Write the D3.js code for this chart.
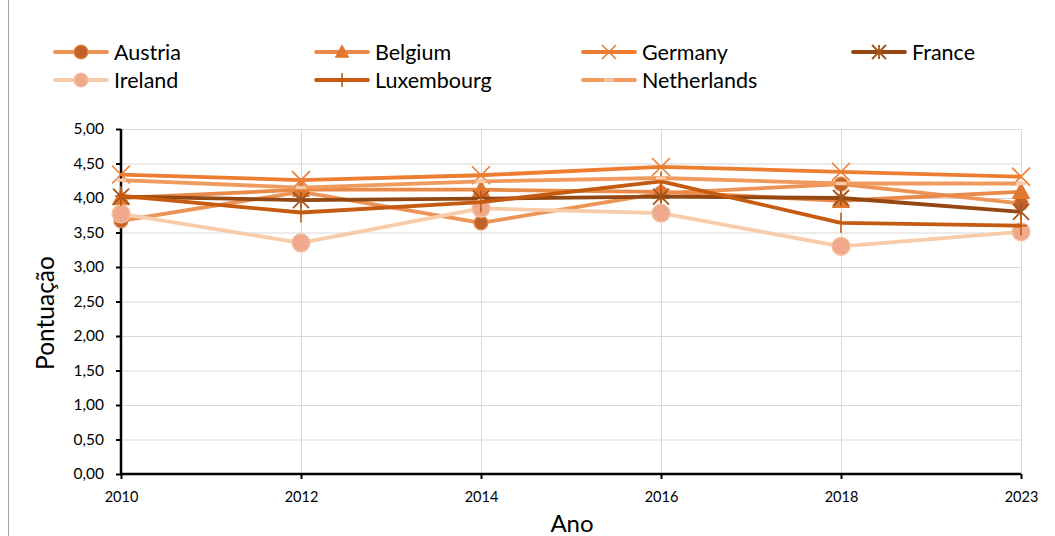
<!DOCTYPE html>
<html>
<head>
<meta charset="utf-8">
<script src="https://cdn.jsdelivr.net/npm/d3@7"></script>
<style>
  body { margin: 0; background: #fff; }
  svg { display: block; font-family: Lato, "Open Sans", "Liberation Sans", sans-serif; }
</style>
</head>
<body>
<svg id="chart" width="1055" height="536"></svg>
<script>
// Survey scores per country, 2010–2023
const years = ["2010", "2012", "2014", "2016", "2018", "2023"];
const austria     = [3.67, 4.09, 3.64, 4.07, 4.20, 3.92];
const belgium     = [4.00, 4.12, 4.12, 4.09, 3.96, 4.09];
const germany     = [4.34, 4.26, 4.33, 4.45, 4.38, 4.31];
const france      = [4.02, 3.97, 3.99, 4.02, 4.00, 3.80];
const ireland     = [3.77, 3.35, 3.85, 3.78, 3.30, 3.51];
const luxembourg  = [4.03, 3.79, 3.94, 4.24, 3.64, 3.60];
const netherlands = [4.26, 4.15, 4.24, 4.29, 4.21, 4.21];
const yTicks = [0, 0.5, 1, 1.5, 2, 2.5, 3, 3.5, 4, 4.5, 5];

const series = [
  { name: "Austria",     values: austria,     line: "#ec9356", marker: "circle", fill: "#c0622a", stroke: "#e88a4c", r: 7 },
  { name: "Belgium",     values: belgium,     line: "#e98a4a", marker: "triangle", fill: "#e2782f", stroke: "#e2782f", r: 9 },
  { name: "Germany",     values: germany,     line: "#ed7d31", marker: "x", fill: "none", stroke: "#ed7d31", r: 9 },
  { name: "France",      values: france,      line: "#934712", marker: "star", fill: "none", stroke: "#a4561e", r: 8 },
  { name: "Ireland",     values: ireland,     line: "#f8cba9", marker: "circle", fill: "#f0a98c", stroke: "#f6c0a2", r: 9 },
  { name: "Luxembourg",  values: luxembourg,  line: "#c55a11", marker: "plus", fill: "none", stroke: "#c55a11", r: 10 },
  { name: "Netherlands", values: netherlands, line: "#f09b5e", marker: "dash", fill: "#f8cbad", stroke: "#f8cbad", r: 5 }
];

const svg = d3.select("#chart");

// outer frame (only its left edge falls inside the view)
svg.append("rect")
  .attr("x", 8.5).attr("y", -2).attr("width", 1100).attr("height", 560)
  .attr("fill", "none").attr("stroke", "#a6a6a6").attr("stroke-width", 1);

const x = d3.scalePoint().domain(years).range([121, 1021]);
const y = d3.scaleLinear().domain([0, 5]).range([474, 129]);

// gridlines
const grid = svg.append("g");
grid.selectAll("line.h").data(yTicks.filter(d => d > 0)).join("line")
  .attr("x1", 121).attr("x2", 1021)
  .attr("y1", d => y(d) + 0.5).attr("y2", d => y(d) + 0.5)
  .attr("stroke", "#d9d9d9").attr("stroke-width", 1);
grid.selectAll("line.v").data(years.slice(1)).join("line")
  .attr("x1", d => x(d) + 0.5).attr("x2", d => x(d) + 0.5)
  .attr("y1", 129).attr("y2", 474)
  .attr("stroke", "#d9d9d9").attr("stroke-width", 1);

// axes
const fmt = d => d.toFixed(2).replace(".", ",");
const yAxis = svg.append("g").attr("transform", "translate(121,0)")
  .call(d3.axisLeft(y).tickValues(yTicks).tickFormat(fmt).tickSize(5).tickPadding(12));
const xAxis = svg.append("g").attr("transform", "translate(0,474)")
  .call(d3.axisBottom(x).tickSize(5).tickPadding(13));
[yAxis, xAxis].forEach(a => {
  a.select(".domain").attr("stroke", "#000").attr("stroke-width", 2.5);
  a.selectAll(".tick line").attr("stroke", "#000").attr("stroke-width", 2);
  a.selectAll("text").attr("fill", "#000").attr("font-family", "Lato, sans-serif");
});
yAxis.selectAll("text").attr("font-size", 15.5);
xAxis.selectAll("text").attr("font-size", 14.5);
yAxis.select(".domain").attr("d", "M0,474V129");
xAxis.select(".domain").attr("d", "M121,0H1021");

// axis titles
svg.append("text").attr("x", 572).attr("y", 532).attr("text-anchor", "middle")
  .attr("font-size", 24).attr("fill", "#000").text("Ano");
svg.append("text").attr("transform", "translate(54,313) rotate(-90)")
  .attr("text-anchor", "middle").attr("font-size", 24.5).attr("fill", "#000").text("Pontuação");

// marker drawing
function drawMarker(g, s) {
  const r = s.r;
  if (s.marker === "circle") {
    g.append("circle").attr("r", r).attr("fill", s.fill).attr("stroke", s.stroke).attr("stroke-width", 1.2);
  } else if (s.marker === "triangle") {
    g.append("path").attr("d", `M0,${-r}L${r * 0.95},${r * 0.75}L${-r * 0.95},${r * 0.75}Z`)
      .attr("fill", s.fill).attr("stroke", s.stroke).attr("stroke-width", 1);
  } else if (s.marker === "x") {
    g.append("path").attr("d", `M${-r},${-r}L${r},${r}M${-r},${r}L${r},${-r}`)
      .attr("stroke", s.stroke).attr("stroke-width", 1.6).attr("fill", "none");
  } else if (s.marker === "star") {
    g.append("path").attr("d", `M${-r},${-r}L${r},${r}M${-r},${r}L${r},${-r}M0,${-r}L0,${r}`)
      .attr("stroke", s.stroke).attr("stroke-width", 1.8).attr("fill", "none");
  } else if (s.marker === "plus") {
    g.append("path").attr("d", `M0,${-r}L0,${r}M${-r * 0.6},0L${r * 0.6},0`)
      .attr("stroke", s.stroke).attr("stroke-width", 1.6).attr("fill", "none");
  } else if (s.marker === "dash") {
    g.append("rect").attr("x", -r).attr("y", -1.5).attr("width", 2 * r).attr("height", 3)
      .attr("fill", s.fill);
  }
}

// series lines and markers
const line = d3.line().x((d, i) => x(years[i])).y(d => y(d));
series.forEach(s => {
  const g = svg.append("g");
  g.append("path").attr("d", line(s.values)).attr("fill", "none")
    .attr("stroke", s.line).attr("stroke-width", 3.8).attr("stroke-linejoin", "round");
  s.values.forEach((v, i) => {
    drawMarker(g.append("g").attr("transform", `translate(${x(years[i])},${y(v)})`), s);
  });
});

// legend
const legendCols = [55, 316, 583, 853];
const legendRows = [52, 80];
series.forEach((s, i) => {
  const lx = legendCols[i % 4], ly = legendRows[Math.floor(i / 4)];
  const g = svg.append("g").attr("transform", `translate(${lx},${ly})`);
  g.append("line").attr("x1", 0).attr("x2", 52).attr("stroke", s.line)
    .attr("stroke-width", 3.8).attr("stroke-linecap", "round");
  const m = Object.assign({}, s, { r: s.marker === "dash" ? 5 : Math.min(s.r, 7) });
  drawMarker(g.append("g").attr("transform", "translate(26,0)"), m);
  g.append("text").attr("x", 59).attr("y", 8).attr("font-size", 21.5).attr("fill", "#000").text(s.name);
});
</script>
</body>
</html>
